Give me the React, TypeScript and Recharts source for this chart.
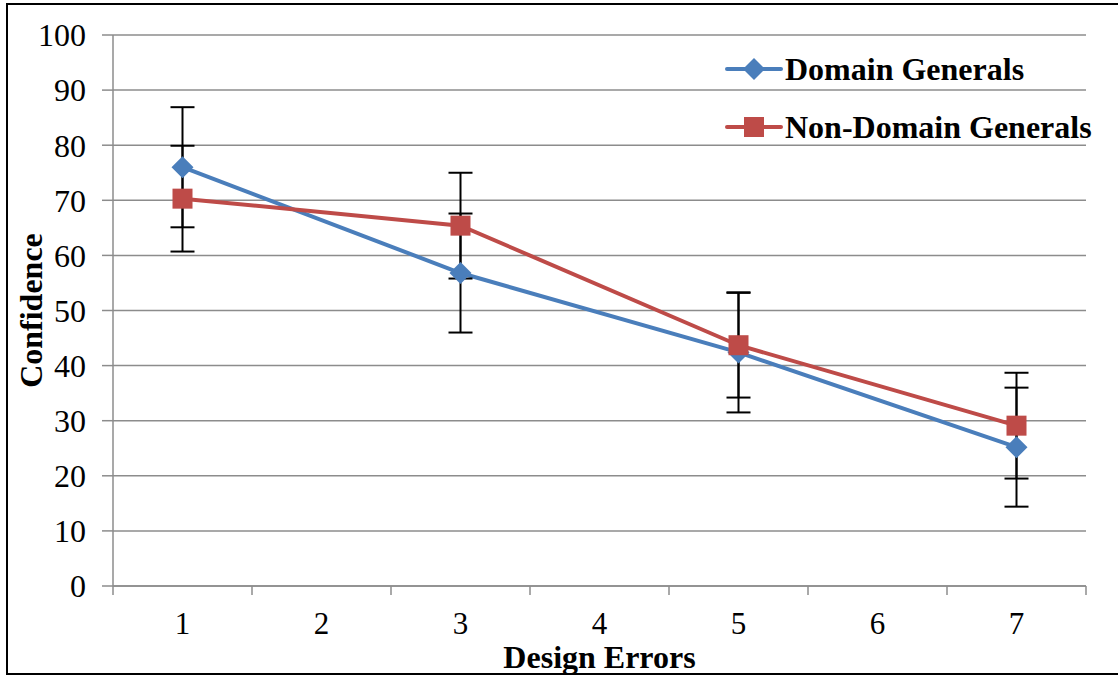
import React from 'react';
import { LineChart, Line, XAxis, YAxis, CartesianGrid, ErrorBar, Legend } from 'recharts';

const categories = ['1', '2', '3', '4', '5', '6', '7'];
const domainGenerals = [76.0, null, 56.8, null, 42.4, null, 25.2];
const domainErr = [10.9, null, 10.8, null, 10.9, null, 10.8];
const nonDomainGenerals = [70.3, null, 65.4, null, 43.7, null, 29.1];
const nonDomainErr = [9.6, null, 9.6, null, 9.5, null, 9.6];
const yTicks = [0, 10, 20, 30, 40, 50, 60, 70, 80, 90, 100];

const data = categories.map((c, i) => ({
  cat: c,
  domain: domainGenerals[i],
  domainErr: domainErr[i],
  nonDomain: nonDomainGenerals[i],
  nonDomainErr: nonDomainErr[i],
}));

const FONT = '"Liberation Serif", "Times New Roman", serif';
const BLUE = '#4a7ebb';
const RED = '#be4b48';
const GRID = '#8c8c8c';

const Diamond = (props: any) => {
  const { cx, cy, index } = props;
  if (cx == null || cy == null) return <g key={`d-${index}`} />;
  const r = 11;
  return (
    <polygon
      key={`d-${index}`}
      points={`${cx},${cy - r} ${cx + r},${cy} ${cx},${cy + r} ${cx - r},${cy}`}
      fill={BLUE}
    />
  );
};

const Square = (props: any) => {
  const { cx, cy, index } = props;
  if (cx == null || cy == null) return <g key={`s-${index}`} />;
  const r = 10;
  return <rect key={`s-${index}`} x={cx - r} y={cy - r} width={r * 2} height={r * 2} fill={RED} />;
};

// x tick: label in band centre, tick mark on band edges (Excel style)
const XTick = (props: any) => {
  const { x, y, payload, index, visibleTicksCount } = props;
  const half = payload.offset || 69.5;
  const top = y - 8;
  return (
    <g>
      <line x1={x - half} y1={top} x2={x - half} y2={top + 9} stroke={GRID} strokeWidth={1.5} />
      {index === visibleTicksCount - 1 && (
        <line x1={x + half} y1={top} x2={x + half} y2={top + 9} stroke={GRID} strokeWidth={1.5} />
      )}
      <text x={x} y={top + 48} textAnchor="middle" fontSize={31} style={{ fontFamily: FONT }} fill="#000">
        {payload.value}
      </text>
    </g>
  );
};

const LegendContent = (props: any) => {
  const { payload } = props;
  return (
    <div>
      {(payload || []).map((entry: any) => (
        <div key={entry.value} style={{ display: 'flex', alignItems: 'center', height: 58 }}>
          <svg width={60} height={24} style={{ display: 'block' }}>
            <line x1={2} y1={12} x2={56} y2={12} stroke={entry.color} strokeWidth={4} strokeLinecap="round" />
            {entry.dataKey === 'domain' ? (
              <polygon points="29,1 40,12 29,23 18,12" fill={entry.color} />
            ) : (
              <rect x={19} y={2} width={20} height={20} fill={entry.color} />
            )}
          </svg>
          <span style={{ fontFamily: FONT, fontWeight: 'bold', fontSize: 32, color: '#000', whiteSpace: 'nowrap' }}>
            {entry.value}
          </span>
        </div>
      ))}
    </div>
  );
};

export default function App() {
  return (
    <div style={{ position: 'absolute', left: 0, top: 0, width: 1118, height: 675, background: '#fff', overflow: 'hidden' }}>
      <div
        style={{
          position: 'absolute',
          left: 6,
          top: 3,
          width: 1130,
          height: 668,
          border: '2px solid #000',
        }}
      />
      <div style={{ position: 'absolute', left: 0, top: 0 }}>
        <LineChart width={1118} height={675} data={data} margin={{ top: 35, right: 32, left: 0, bottom: 0 }}>
          <CartesianGrid vertical={false} stroke={GRID} strokeWidth={1.5} />
          <XAxis
            dataKey="cat"
            scale="band"
            height={89}
            axisLine={{ stroke: GRID, strokeWidth: 1.5 }}
            tickLine={false}
            tick={<XTick />}
            interval={0}
            label={{
              value: 'Design Errors',
              position: 'insideBottom',
              offset: 7,
              fontSize: 32,
              fontWeight: 'bold',
              fontFamily: FONT,
              fill: '#000',
            }}
          />
          <YAxis
            width={113}
            domain={[0, 100]}
            ticks={yTicks}
            interval={0}
            axisLine={{ stroke: GRID, strokeWidth: 1.5 }}
            tickLine={{ stroke: GRID, strokeWidth: 1.5 }}
            tickSize={11}
            tickMargin={16}
            tick={{ fontSize: 32, fill: '#000', style: { fontFamily: FONT } }}
            label={{
              value: 'Confidence',
              angle: -90,
              position: 'insideLeft',
              offset: 0,
              dx: 31,
              fontSize: 32,
              fontWeight: 'bold',
              fontFamily: FONT,
              fill: '#000',
              style: { textAnchor: 'middle' },
            }}
          />
          <Legend
            layout="vertical"
            align="center"
            verticalAlign="middle"
            wrapperStyle={{ top: 40, left: 725, width: 400 }}
            content={<LegendContent />}
          />
          <Line
            dataKey="domain"
            name="Domain Generals"
            stroke={BLUE}
            strokeWidth={4}
            connectNulls
            dot={Diamond}
            activeDot={false}
            isAnimationActive={false}
          >
            <ErrorBar dataKey="domainErr" width={12} stroke="#000" strokeWidth={2} direction="y" />
          </Line>
          <Line
            dataKey="nonDomain"
            name="Non-Domain Generals"
            stroke={RED}
            strokeWidth={4}
            connectNulls
            dot={Square}
            activeDot={false}
            isAnimationActive={false}
          >
            <ErrorBar dataKey="nonDomainErr" width={12} stroke="#000" strokeWidth={2} direction="y" />
          </Line>
        </LineChart>
      </div>
    </div>
  );
}
